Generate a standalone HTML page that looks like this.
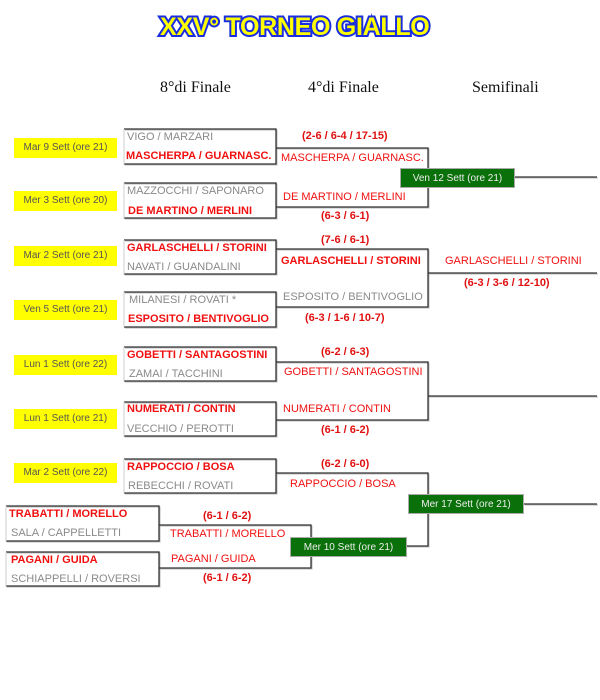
<!DOCTYPE html>
<html><head><meta charset="utf-8"><style>
body{margin:0;width:600px;height:700px;background:#fff;position:relative;overflow:hidden;font-family:"Liberation Sans",Arial,sans-serif}
.t{position:absolute;font-size:11px;line-height:14px;white-space:nowrap}
.w{color:#f01010;font-weight:bold}
.l{color:#8a8a8a}
.r{color:#f01010}
.s{color:#e01010;font-weight:bold}
.y{position:absolute;background:#ffff00;color:#555;font-size:10px;line-height:20px;height:20px;width:103px;left:14px;text-align:center}
.g{position:absolute;background:#0a700a;color:#eee;font-size:10px;line-height:20px;height:20px;text-align:center;border:1px solid #aaa;box-sizing:border-box}
.h{position:absolute;font-family:"Liberation Serif",serif;font-size:16px;color:#111;top:79px}
.title{position:absolute;left:160px;top:12px;width:266px;text-align:center;white-space:nowrap;font-family:"Liberation Sans",sans-serif;font-weight:900;font-size:25px;color:#ffff00;-webkit-text-stroke:4px #1a2ee0;paint-order:stroke fill;letter-spacing:-0.3px;line-height:30px}
</style></head><body>
<div class="title">XXV° TORNEO GIALLO</div>
<div class="h" style="left:160px">8°di Finale</div>
<div class="h" style="left:308px">4°di Finale</div>
<div class="h" style="left:472px">Semifinali</div>

<svg width="600" height="700" style="position:absolute;left:0;top:0" fill="none">
<g stroke="#bbb" stroke-width="1" transform="translate(1,1)">
<path d="M124 129H276V164H124 M124 183H276V218H124 M124 240H276V274H124 M124 292H276V327H124 M124 347H276V381H124 M124 402H276V436H124 M124 459H276V493H124 M6 506H159V541H6 M6 552H159V586H6"/>
<path d="M276 148H428V207H276 M276 249H428V307H276 M276 362H428V420H276 M276 473H428V546H311 M159 525H311V568H159 M428 177H597 M428 273H597 M428 396H597 M524 504H597"/>
</g>
<g stroke="#333" stroke-width="1.3">
<path d="M124 129H276V164H124 M124 183H276V218H124 M124 240H276V274H124 M124 292H276V327H124 M124 347H276V381H124 M124 402H276V436H124 M124 459H276V493H124 M6 506H159V541H6 M6 552H159V586H6"/>
<path d="M276 148H428V207H276 M276 249H428V307H276 M276 362H428V420H276 M276 473H428V546H311 M159 525H311V568H159 M428 177H597 M428 273H597 M428 396H597 M524 504H597"/>
</g>
<g stroke="#ccc" stroke-width="1"><path d="M124 129V164 M124 183V218 M124 240V274 M124 292V327 M124 347V381 M124 402V436 M124 459V493 M6 506V541 M6 552V586"/></g>
</svg>

<div class="y" style="top:138px">Mar 9 Sett (ore 21)</div>
<div class="y" style="top:191px">Mer 3 Sett (ore 20)</div>
<div class="y" style="top:246px">Mar 2 Sett (ore 21)</div>
<div class="y" style="top:300px">Ven 5 Sett (ore 21)</div>
<div class="y" style="top:355px">Lun 1 Sett (ore 22)</div>
<div class="y" style="top:409px">Lun 1 Sett (ore 21)</div>
<div class="y" style="top:463px">Mar 2 Sett (ore 22)</div>

<div class="g" style="left:400px;top:168px;width:115px">Ven 12 Sett (ore 21)</div>
<div class="g" style="left:408px;top:494px;width:116px">Mer 17 Sett (ore 21)</div>
<div class="g" style="left:290px;top:537px;width:117px">Mer 10 Sett (ore 21)</div>

<div class="t l" style="left:127px;top:130px">VIGO / MARZARI</div>
<div class="t w" style="left:126px;top:149px">MASCHERPA / GUARNASC.</div>
<div class="t l" style="left:127px;top:184px">MAZZOCCHI / SAPONARO</div>
<div class="t w" style="left:128px;top:204px">DE MARTINO / MERLINI</div>
<div class="t w" style="left:127px;top:241px">GARLASCHELLI / STORINI</div>
<div class="t l" style="left:127px;top:260px">NAVATI / GUANDALINI</div>
<div class="t l" style="left:129px;top:293px">MILANESI / ROVATI *</div>
<div class="t w" style="left:128px;top:312px">ESPOSITO / BENTIVOGLIO</div>
<div class="t w" style="left:127px;top:348px">GOBETTI / SANTAGOSTINI</div>
<div class="t l" style="left:129px;top:367px">ZAMAI / TACCHINI</div>
<div class="t w" style="left:127px;top:402px">NUMERATI / CONTIN</div>
<div class="t l" style="left:127px;top:422px">VECCHIO / PEROTTI</div>
<div class="t w" style="left:127px;top:460px">RAPPOCCIO / BOSA</div>
<div class="t l" style="left:128px;top:479px">REBECCHI / ROVATI</div>
<div class="t w" style="left:9px;top:507px">TRABATTI / MORELLO</div>
<div class="t l" style="left:11px;top:526px">SALA / CAPPELLETTI</div>
<div class="t w" style="left:11px;top:553px">PAGANI / GUIDA</div>
<div class="t l" style="left:11px;top:572px">SCHIAPPELLI / ROVERSI</div>

<div class="t s" style="left:302px;top:129px">(2-6 / 6-4 / 17-15)</div>
<div class="t r" style="left:281px;top:151px">MASCHERPA / GUARNASC.</div>
<div class="t r" style="left:283px;top:190px">DE MARTINO / MERLINI</div>
<div class="t s" style="left:321px;top:209px">(6-3 / 6-1)</div>
<div class="t s" style="left:321px;top:233px">(7-6 / 6-1)</div>
<div class="t w" style="left:281px;top:254px">GARLASCHELLI / STORINI</div>
<div class="t l" style="left:283px;top:290px">ESPOSITO / BENTIVOGLIO</div>
<div class="t s" style="left:305px;top:311px">(6-3 / 1-6 / 10-7)</div>
<div class="t r" style="left:445px;top:254px">GARLASCHELLI / STORINI</div>
<div class="t s" style="left:464px;top:276px">(6-3 / 3-6 / 12-10)</div>
<div class="t s" style="left:321px;top:345px">(6-2 / 6-3)</div>
<div class="t r" style="left:284px;top:365px">GOBETTI / SANTAGOSTINI</div>
<div class="t r" style="left:283px;top:402px">NUMERATI / CONTIN</div>
<div class="t s" style="left:321px;top:423px">(6-1 / 6-2)</div>
<div class="t s" style="left:321px;top:457px">(6-2 / 6-0)</div>
<div class="t r" style="left:290px;top:477px">RAPPOCCIO / BOSA</div>
<div class="t s" style="left:203px;top:509px">(6-1 / 6-2)</div>
<div class="t r" style="left:170px;top:527px">TRABATTI / MORELLO</div>
<div class="t r" style="left:171px;top:552px">PAGANI / GUIDA</div>
<div class="t s" style="left:203px;top:571px">(6-1 / 6-2)</div>
</body></html>
